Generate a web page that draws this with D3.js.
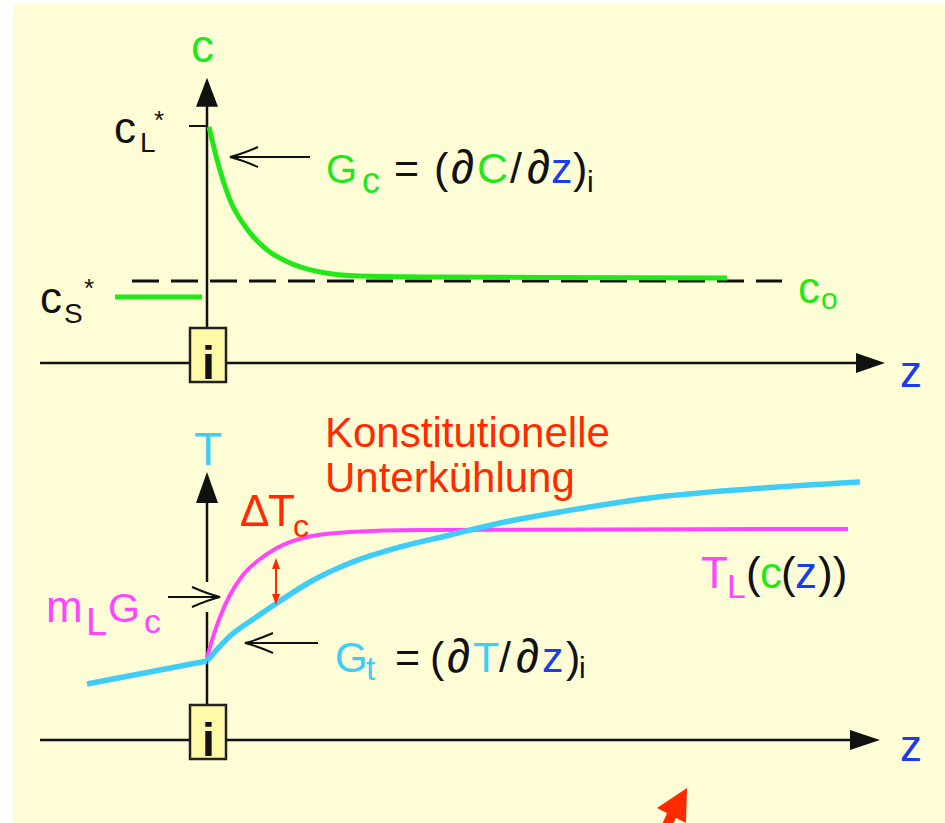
<!DOCTYPE html>
<html>
<head>
<meta charset="utf-8">
<script src="https://cdn.jsdelivr.net/npm/d3@7"></script>
<style>
  html, body { margin: 0; padding: 0; background: #ffffff; }
  svg { display: block; }
  text { font-family: "Liberation Sans", Arial, Helvetica, sans-serif; }
</style>
</head>
<body>
<svg id="chart" width="945" height="823"></svg>
<script>
// Concentration profile in the melt ahead of the interface (z, c)
const concZ = [0.2, 1.0, 2.3, 4.1, 6.0, 8.3, 11.3, 15.3, 21.3, 34.3, 52.0];
const concC = [2.88, 2.48, 1.99, 1.62, 1.38, 1.22, 1.11, 1.06, 1.05, 1.043, 1.037];
// Concentration in the solid
const solidZ = [-9.2, -0.5];
const solidC = [0.805, 0.805];
// Reference levels
const cZero = 1.0;     // c0
const cLiquid = 2.89;  // cL*
// Actual temperature profile (z, T)
const tempZ = [-12.0, 0, 2.3, 4.8, 7.3, 10.3, 14.3, 19.3, 24.3, 29.3, 35.3, 44.3, 54.3, 65.3];
const tempT = [0.56, 0.79, 1.04, 1.22, 1.39, 1.58, 1.77, 1.93, 2.05, 2.17, 2.28, 2.42, 2.51, 2.58];
// Liquidus temperature TL(c(z))
const liqZ = [0, 0.6, 1.3, 2.3, 3.6, 5.3, 7.0, 10.0, 14.3, 21.3, 64.1];
const liqT = [0.82, 1.03, 1.23, 1.45, 1.65, 1.81, 1.92, 2.03, 2.08, 2.10, 2.11];

const GREEN = "#22e81a", CYAN = "#3fcdf6", MAGENTA = "#ff45ff",
      RED = "#ff2a00", BLUE = "#1a3cf0", INK = "#111111";

const svg = d3.select("#chart");

// pale yellow slide background
svg.append("rect").attr("x", 13).attr("y", 4).attr("width", 932).attr("height", 819)
  .attr("fill", "#fffdd6");

const x = d3.scaleLinear().domain([-16.7, 67.8]).range([40, 885]);
const yc = d3.scaleLinear().domain([0, 1]).range([363, 281]);
const yT = d3.scaleLinear().domain([0, 1]).range([740, 640]);

const pts = (zs, vs) => zs.map((z, i) => [z, vs[i]]);

function arrowHeadFilled(g, tipX, tipY, dir, len, half, color) {
  // dir: "up" or "right"
  const p = dir === "up"
    ? [[tipX, tipY], [tipX - half, tipY + len], [tipX + half, tipY + len]]
    : [[tipX, tipY], [tipX - len, tipY - half], [tipX - len, tipY + half]];
  g.append("path").attr("d", d3.line()(p) + "Z").attr("fill", color);
}

function openArrow(g, x1, x2, yy) {
  // horizontal line from x1 to tip x2 with an open V head
  const s = x2 < x1 ? 1 : -1;
  g.append("line").attr("x1", x1).attr("x2", x2).attr("y1", yy).attr("y2", yy)
    .attr("stroke", INK).attr("stroke-width", 2);
  g.append("path")
    .attr("d", `M${x2 + s * 28},${yy - 10} Q${x2 + s * 12},${yy - 3} ${x2},${yy} Q${x2 + s * 12},${yy + 3} ${x2 + s * 28},${yy + 10}`)
    .attr("fill", "none").attr("stroke", INK).attr("stroke-width", 2);
}

function label(g, pieces) {
  const t = g.append("text");
  pieces.forEach(p => {
    t.append("tspan").attr("x", p.x).attr("y", p.y)
      .attr("font-size", p.s).attr("fill", p.c || INK)
      .attr("font-weight", p.w || "normal").text(p.t);
  });
  return t;
}

function interfaceBox(g, cx, axisY) {
  g.append("rect").attr("x", cx - 17).attr("y", axisY - 35).attr("width", 36).attr("height", 54)
    .attr("fill", "#fff9a8").attr("stroke", "#222").attr("stroke-width", 2.5);
  g.append("text").attr("x", cx + 1.5).attr("y", axisY + 16).attr("text-anchor", "middle")
    .attr("font-size", 46).attr("font-weight", "bold").attr("fill", INK).text("i");
}

// ---------- upper panel: concentration ----------
const upper = svg.append("g");
const x0 = x(0);

// z axis
upper.append("line").attr("x1", x(-16.7)).attr("x2", x(65)).attr("y1", yc(0)).attr("y2", yc(0))
  .attr("stroke", INK).attr("stroke-width", 2.5);
arrowHeadFilled(upper, x(67.8), yc(0), "right", 29, 10, INK);

// c axis
upper.append("line").attr("x1", x0).attr("x2", x0).attr("y1", yc(0)).attr("y2", yc(3.2))
  .attr("stroke", INK).attr("stroke-width", 2.5);
arrowHeadFilled(upper, x0, yc(3.48), "up", 29, 11, INK);

// cL* tick
upper.append("line").attr("x1", x(-1.8)).attr("x2", x0).attr("y1", yc(cLiquid)).attr("y2", yc(cLiquid))
  .attr("stroke", INK).attr("stroke-width", 2);

// c0 dashed level
upper.append("line").attr("x1", x(-7.5)).attr("x2", x(57.5)).attr("y1", yc(cZero)).attr("y2", yc(cZero))
  .attr("stroke", INK).attr("stroke-width", 3).attr("stroke-dasharray", "27 12");

// solid concentration
upper.append("path").attr("d", d3.line().x(d => x(d[0])).y(d => yc(d[1]))(pts(solidZ, solidC)))
  .attr("fill", "none").attr("stroke", GREEN).attr("stroke-width", 5);

// melt concentration profile
upper.append("path")
  .attr("d", d3.line().x(d => x(d[0])).y(d => yc(d[1])).curve(d3.curveMonotoneX)(pts(concZ, concC)))
  .attr("fill", "none").attr("stroke", GREEN).attr("stroke-width", 5).attr("stroke-linecap", "butt");

interfaceBox(upper, x0, yc(0));

openArrow(upper, 310, 230, 157);

label(upper, [{ x: 191, y: 62, s: 46, c: GREEN, t: "c" }]);
label(upper, [
  { x: 114, y: 143, s: 44, t: "c" },
  { x: 140, y: 152, s: 28, t: "L" },
  { x: 154, y: 129, s: 26, t: "*" }
]);
label(upper, [
  { x: 40, y: 313, s: 44, t: "c" },
  { x: 64, y: 323, s: 28, t: "S" },
  { x: 84, y: 297, s: 26, t: "*" }
]);
label(upper, [
  { x: 798, y: 303, s: 44, c: GREEN, t: "c" },
  { x: 821, y: 309, s: 30, c: GREEN, t: "o" }
]);
label(upper, [{ x: 900, y: 387, s: 44, c: BLUE, t: "z" }]);
label(upper, [
  { x: 326, y: 183, s: 40, c: GREEN, t: "G" },
  { x: 362, y: 193, s: 36, c: GREEN, t: "c" },
  { x: 394, y: 183, s: 43, t: "=" },
  { x: 434, y: 183, s: 43, t: "(" },
  { x: 451, y: 183, s: 47, t: "∂" },
  { x: 477, y: 183, s: 43, c: GREEN, t: "C" },
  { x: 510, y: 183, s: 43, t: "/" },
  { x: 527, y: 183, s: 47, t: "∂" },
  { x: 551, y: 183, s: 43, c: BLUE, t: "z" },
  { x: 573, y: 183, s: 43, t: ")" },
  { x: 587, y: 192, s: 30, t: "i" }
]);

// ---------- lower panel: temperature ----------
const lower = svg.append("g");

lower.append("line").attr("x1", x(-16.7)).attr("x2", x(65)).attr("y1", yT(0)).attr("y2", yT(0))
  .attr("stroke", INK).attr("stroke-width", 2.5);
arrowHeadFilled(lower, x(67.3), yT(0), "right", 30, 10, INK);

// T axis, broken where the mL·Gc arrow points in
lower.append("line").attr("x1", x0).attr("x2", x0).attr("y1", yT(0)).attr("y2", yT(1.28))
  .attr("stroke", INK).attr("stroke-width", 2.5);
lower.append("line").attr("x1", x0).attr("x2", x0).attr("y1", yT(1.58)).attr("y2", yT(2.4))
  .attr("stroke", INK).attr("stroke-width", 2.5);
arrowHeadFilled(lower, x0, yT(2.68), "up", 31, 11, INK);

// liquidus temperature
lower.append("path")
  .attr("d", d3.line().x(d => x(d[0])).y(d => yT(d[1])).curve(d3.curveMonotoneX)(pts(liqZ, liqT)))
  .attr("fill", "none").attr("stroke", MAGENTA).attr("stroke-width", 4);

// actual temperature: linear in the solid, curved in the melt
const tp = pts(tempZ, tempT);
lower.append("path").attr("d", d3.line().x(d => x(d[0])).y(d => yT(d[1]))(tp.slice(0, 2)))
  .attr("fill", "none").attr("stroke", CYAN).attr("stroke-width", 5.5);
lower.append("path")
  .attr("d", d3.line().x(d => x(d[0])).y(d => yT(d[1])).curve(d3.curveMonotoneX)(tp.slice(1)))
  .attr("fill", "none").attr("stroke", CYAN).attr("stroke-width", 5.5);

// undercooling double arrow between the two curves
const dz = 6.9, dTop = 1.82, dBot = 1.35;
lower.append("line").attr("x1", x(dz)).attr("x2", x(dz)).attr("y1", yT(dTop) + 8).attr("y2", yT(dBot) - 8)
  .attr("stroke", RED).attr("stroke-width", 2);
lower.append("path").attr("d", `M${x(dz)},${yT(dTop)} l-4,11 l8,0 Z`).attr("fill", RED);
lower.append("path").attr("d", `M${x(dz)},${yT(dBot)} l-4,-11 l8,0 Z`).attr("fill", RED);

interfaceBox(lower, x0, yT(0));

openArrow(lower, 168, 220, 597);
openArrow(lower, 318, 245, 643);

label(lower, [{ x: 194, y: 465, s: 46, c: CYAN, t: "T" }]);
label(lower, [{ x: 325, y: 447, s: 42, c: RED, t: "Konstitutionelle" }]);
label(lower, [{ x: 325, y: 492, s: 42, c: RED, t: "Unterkühlung" }]);
label(lower, [
  { x: 240, y: 526, s: 44, c: RED, t: "Δ" },
  { x: 268, y: 526, s: 44, c: RED, t: "T" },
  { x: 293, y: 537, s: 32, c: RED, t: "c" }
]);
label(lower, [
  { x: 46, y: 622, s: 44, c: MAGENTA, t: "m" },
  { x: 86, y: 635, s: 38, c: MAGENTA, t: "L" },
  { x: 108, y: 622, s: 41, c: MAGENTA, t: "G" },
  { x: 144, y: 633, s: 34, c: MAGENTA, t: "c" }
]);
label(lower, [
  { x: 335, y: 672, s: 42, c: CYAN, t: "G" },
  { x: 366, y: 680, s: 34, c: CYAN, t: "t" },
  { x: 395, y: 672, s: 43, t: "=" },
  { x: 430, y: 672, s: 43, t: "(" },
  { x: 447, y: 672, s: 47, t: "∂" },
  { x: 473, y: 672, s: 43, c: CYAN, t: "T" },
  { x: 499, y: 672, s: 43, t: "/" },
  { x: 516, y: 672, s: 47, t: "∂" },
  { x: 542, y: 672, s: 43, c: BLUE, t: "z" },
  { x: 566, y: 672, s: 43, t: ")" },
  { x: 579, y: 678, s: 30, t: "i" }
]);
label(lower, [
  { x: 701, y: 588, s: 44, c: MAGENTA, t: "T" },
  { x: 727, y: 598, s: 34, c: MAGENTA, t: "L" },
  { x: 746, y: 588, s: 44, t: "(" },
  { x: 760, y: 588, s: 44, c: GREEN, t: "c" },
  { x: 781, y: 588, s: 44, t: "(" },
  { x: 795, y: 588, s: 44, c: BLUE, t: "z" },
  { x: 818, y: 588, s: 44, t: "))" }
]);
label(lower, [{ x: 900, y: 761, s: 44, c: BLUE, t: "z" }]);

// red pointer entering from the bottom edge
lower.append("line").attr("x1", 673).attr("y1", 812).attr("x2", 652).attr("y2", 860)
  .attr("stroke", RED).attr("stroke-width", 10);
lower.append("path").attr("d", "M687,788 L657,808 L686,823 Z").attr("fill", RED);
</script>
</body>
</html>
